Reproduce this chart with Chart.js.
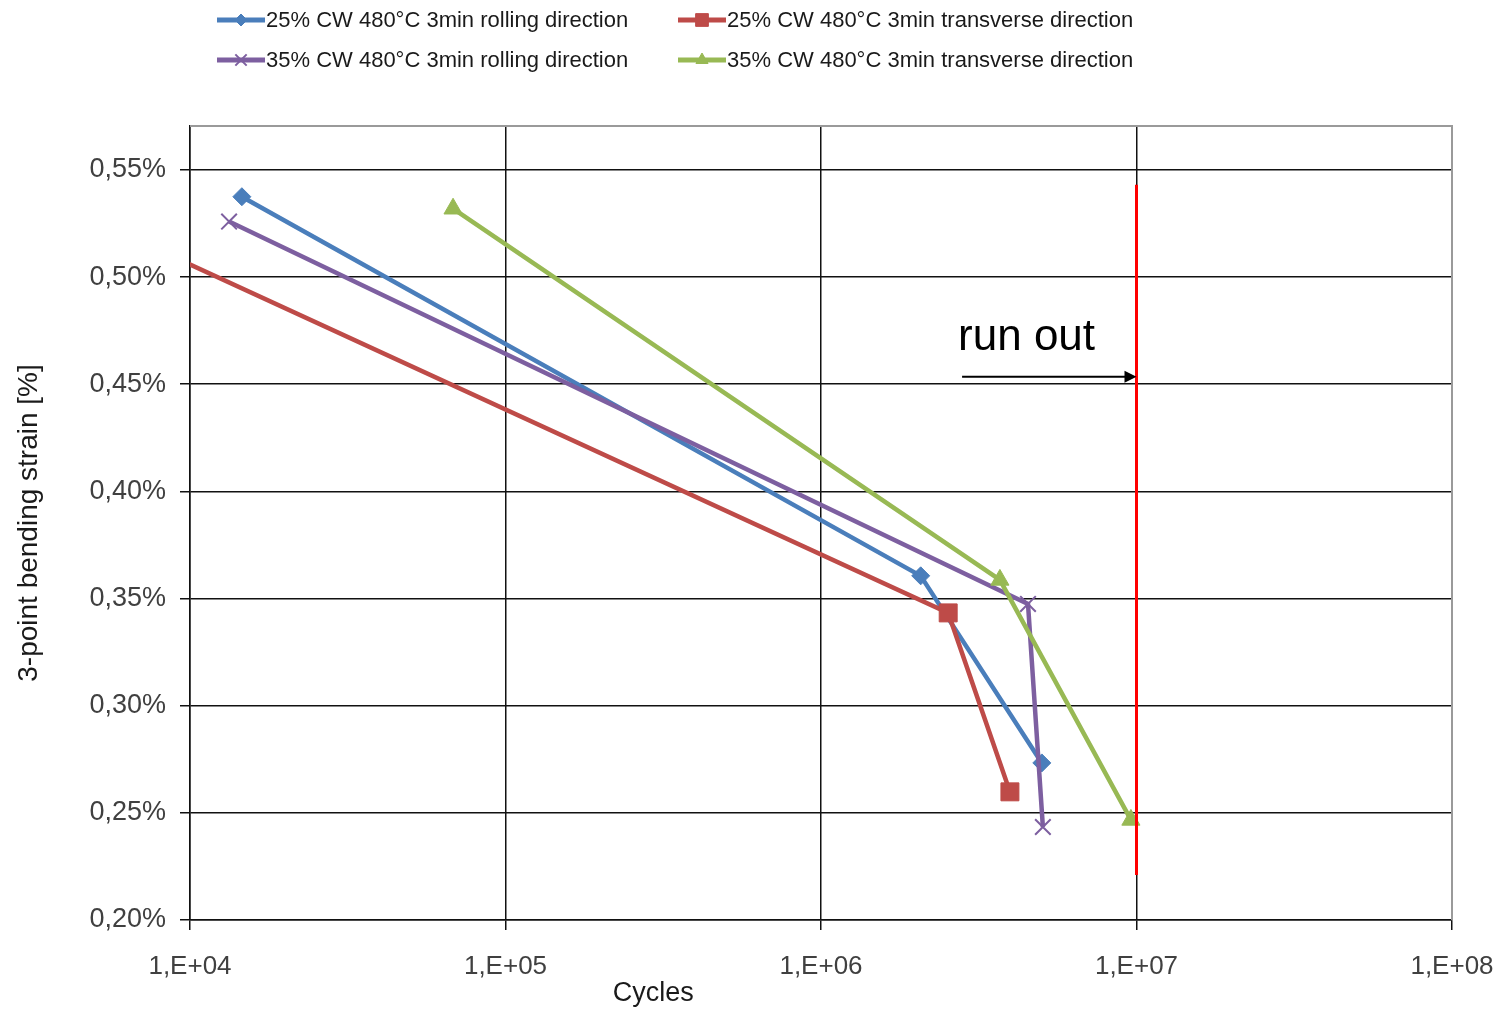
<!DOCTYPE html>
<html lang="en">
<head>
  <meta charset="UTF-8">
  <title>3-point bending fatigue</title>
  <script src="https://cdn.jsdelivr.net/npm/chart.js@4.4.1/dist/chart.umd.min.js"></script>
  <style>
    html, body { margin: 0; padding: 0; background: #fff; }
    #wrap { position: relative; width: 1504px; height: 1011px; }
  </style>
</head>
<body>
  <div id="wrap"><canvas id="chart"></canvas></div>
  <script>
    // series names (legend order)
    const seriesLabels = [
      '25% CW 480°C 3min rolling direction',
      '25% CW 480°C 3min transverse direction',
      '35% CW 480°C 3min rolling direction',
      '35% CW 480°C 3min transverse direction'
    ];
    const seriesColors = ['#4a7ebb', '#be4b48', '#7d5fa0', '#98b954'];
    const seriesMarkers = ['rectRot', 'rect', 'crossRot', 'triangle'];

    // cycles to failure / strain in %
    const blueCycles = [14600, 2070000, 5010000];
    const blueStrain = [0.5375, 0.3606, 0.2733];
    const redCycles = [8700, 2530000, 3970000];
    const redStrain = [0.510, 0.3433, 0.2598];
    const purpleCycles = [13300, 4530000, 5050000];
    const purpleStrain = [0.5259, 0.3475, 0.2434];
    const greenCycles = [68200, 3690000, 9600000];
    const greenStrain = [0.5319, 0.3587, 0.2467];

    // run-out limit
    const runOutCycles = [1e7, 1e7];
    const runOutStrain = [0.5431, 0.221];
    const runOutArrowFrom = 2.8e6;
    const runOutArrowY = 0.4535;

    // axes
    const xTickValues = [1e4, 1e5, 1e6, 1e7, 1e8];
    const xTickLabels = ['1,E+04', '1,E+05', '1,E+06', '1,E+07', '1,E+08'];
    const yTickValues = [0.20, 0.25, 0.30, 0.35, 0.40, 0.45, 0.50, 0.55];
    const yTickLabels = ['0,20%', '0,25%', '0,30%', '0,35%', '0,40%', '0,45%', '0,50%', '0,55%'];

    const allCycles = [blueCycles, redCycles, purpleCycles, greenCycles];
    const allStrain = [blueStrain, redStrain, purpleStrain, greenStrain];
    const markerSizes = [9, 12.7, 11, 10.5];
    const legendMarkerSizes = [6, 9, 8, 7];

    const toPoints = (xs, ys) => xs.map((x, i) => ({ x: x, y: ys[i] }));

    const datasets = seriesLabels.map((label, i) => ({
      label: label,
      data: toPoints(allCycles[i], allStrain[i]),
      borderColor: seriesColors[i],
      backgroundColor: seriesColors[i],
      borderWidth: 4.5,
      pointStyle: seriesMarkers[i],
      pointRadius: markerSizes[i],
      pointBorderWidth: seriesMarkers[i] === 'crossRot' ? 2 : 1,
      pointBorderColor: seriesColors[i],
      pointBackgroundColor: seriesColors[i],
      order: 4 - i,
      clip: 0,
      legendIndex: i
    }));

    datasets.push({
      label: 'run out',
      data: toPoints(runOutCycles, runOutStrain),
      borderColor: '#ff0000',
      borderWidth: 3,
      pointRadius: 0,
      order: -1,
      isRunOut: true
    });

    const FONT = '"Liberation Sans", Arial, sans-serif';

    // gray plot-area frame on top and right
    const framePlugin = {
      id: 'frame',
      beforeDatasetsDraw(chart) {
        const { ctx, chartArea: a } = chart;
        ctx.save();
        ctx.strokeStyle = '#9a9a9a';
        ctx.lineWidth = 2;
        ctx.beginPath();
        ctx.moveTo(a.left, a.top);
        ctx.lineTo(a.right, a.top);
        ctx.lineTo(a.right, a.bottom);
        ctx.stroke();
        ctx.restore();
      }
    };

    // "run out" arrow, text and x-axis title
    const annotPlugin = {
      id: 'annot',
      afterDatasetsDraw(chart) {
        const { ctx } = chart;
        const xs = chart.scales.x, ys = chart.scales.y;
        const x0 = xs.getPixelForValue(runOutArrowFrom);
        const x1 = xs.getPixelForValue(runOutCycles[0]);
        const y = ys.getPixelForValue(runOutArrowY);
        ctx.save();
        ctx.strokeStyle = '#000';
        ctx.fillStyle = '#000';
        ctx.lineWidth = 2;
        ctx.beginPath();
        ctx.moveTo(x0, y);
        ctx.lineTo(x1 - 8, y);
        ctx.stroke();
        ctx.beginPath();
        ctx.moveTo(x1, y);
        ctx.lineTo(x1 - 12, y - 6);
        ctx.lineTo(x1 - 12, y + 6);
        ctx.closePath();
        ctx.fill();
        ctx.font = '44px ' + FONT;
        ctx.textAlign = 'left';
        ctx.textBaseline = 'alphabetic';
        ctx.fillText('run out', x0 - 4, y - 27);
        ctx.restore();
      },
      afterDraw(chart) {
        const { ctx, chartArea: a } = chart;
        ctx.save();
        ctx.font = '27px ' + FONT;
        ctx.fillStyle = '#1a1a1a';
        ctx.textAlign = 'center';
        ctx.textBaseline = 'middle';
        ctx.fillText('Cycles', a.left + (a.right - a.left) * 0.367, 994);
        ctx.restore();
      }
    };

    // two-column legend with line + marker samples
    const legendPlugin = {
      id: 'sampleLegend',
      afterDraw(chart) {
        const { ctx } = chart;
        const colX = [217, 678];
        const rowY = [20, 60];
        ctx.save();
        chart.data.datasets.forEach(ds => {
          if (ds.isRunOut) return;
          const i = ds.legendIndex;
          const x = colX[i % 2];
          const y = rowY[Math.floor(i / 2)];
          ctx.strokeStyle = ds.borderColor;
          ctx.lineWidth = 5;
          ctx.beginPath();
          ctx.moveTo(x, y);
          ctx.lineTo(x + 48, y);
          ctx.stroke();
          ctx.fillStyle = ds.backgroundColor;
          ctx.lineWidth = ds.pointBorderWidth;
          Chart.helpers.drawPoint(ctx, {
            pointStyle: ds.pointStyle,
            radius: legendMarkerSizes[i],
            rotation: 0,
            borderWidth: ds.pointBorderWidth
          }, x + 24, y);
          ctx.fillStyle = '#1a1a1a';
          ctx.font = '22px ' + FONT;
          ctx.textAlign = 'left';
          ctx.textBaseline = 'middle';
          ctx.fillText(ds.label, x + 49, y + 1);
        });
        ctx.restore();
      }
    };

    new Chart(document.getElementById('chart'), {
      type: 'line',
      data: { datasets: datasets },
      plugins: [framePlugin, annotPlugin, legendPlugin],
      options: {
        responsive: true,
        maintainAspectRatio: false,
        animation: false,
        layout: { padding: { top: 126, right: 52, left: 0, bottom: 0 } },
        plugins: {
          legend: { display: false },
          tooltip: { enabled: false }
        },
        scales: {
          x: {
            type: 'logarithmic',
            min: 1e4,
            max: 1e8,
            afterBuildTicks: s => { s.ticks = xTickValues.map(v => ({ value: v, major: true })); },
            afterFit: s => { s.height = 91; s.paddingLeft = 0; s.paddingRight = 0; },
            ticks: {
              callback: (v, i) => xTickLabels[i],
              font: { family: FONT, size: 26 },
              color: '#404040',
              padding: 21,
              maxRotation: 0,
              autoSkip: false
            },
            grid: { color: '#111', lineWidth: 1.5, tickLength: 10 },
            border: { color: '#111', width: 1.5 }
          },
          y: {
            min: 0.2,
            max: 0.5705,
            afterBuildTicks: s => { s.ticks = yTickValues.map(v => ({ value: v })); },
            afterFit: s => { s.width = 190; s.paddingTop = 0; s.paddingBottom = 0; },
            ticks: {
              callback: (v, i) => yTickLabels[i],
              font: { family: FONT, size: 27 },
              color: '#404040',
              padding: 14
            },
            grid: { color: '#111', lineWidth: 1.5, tickLength: 10 },
            border: { color: '#111', width: 1.5 },
            title: {
              display: true,
              text: '3-point bending strain [%]',
              font: { family: FONT, size: 28 },
              color: '#1a1a1a',
              padding: { top: 12, bottom: 0 }
            }
          }
        }
      }
    });
  </script>
</body>
</html>
